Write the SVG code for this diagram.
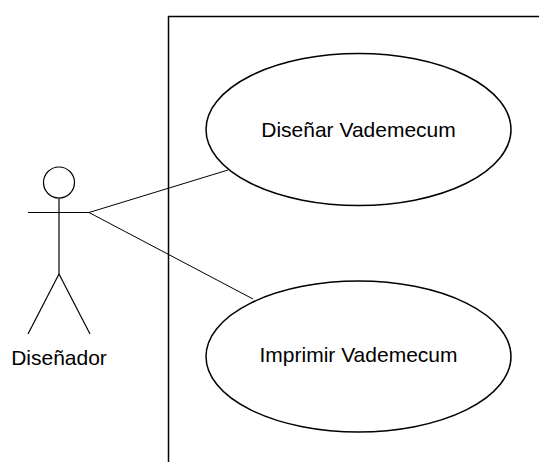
<svg xmlns="http://www.w3.org/2000/svg" width="539" height="462" viewBox="0 0 539 462">
<style>
.shape{fill:none;stroke:#000;stroke-width:1.5}
.usecase{fill:#fff;stroke:#000;stroke-width:1.5}
.actor{fill:none;stroke:#000;stroke-width:1.2}
.conn{fill:none;stroke:#000;stroke-width:1}
text{font-family:"Liberation Sans",Arial,sans-serif;font-size:21px;fill:#000;text-anchor:middle}
</style>
<rect width="539" height="462" fill="#fff"/>
<g id="system">
<path class="shape" d="M168.5,462 V16.5 H539"/>
</g>
<g id="connectors">
<line class="conn" x1="89" y1="212.5" x2="228" y2="170"/>
<line class="conn" x1="89" y1="212.5" x2="253" y2="299"/>
</g>
<g id="actor-disenador">
<circle class="actor" cx="59" cy="182.5" r="15.5"/>
<line class="actor" x1="59" y1="198" x2="59" y2="274"/>
<line class="actor" x1="28" y1="212.5" x2="89" y2="212.5"/>
<line class="actor" x1="59" y1="274" x2="28" y2="334"/>
<line class="actor" x1="59" y1="274" x2="90" y2="334"/>
<text x="59" y="365">Diseñador</text>
</g>
<g id="uc-disenar">
<ellipse class="usecase" cx="358.5" cy="129.5" rx="152.5" ry="76"/>
<text x="358.5" y="137">Diseñar Vademecum</text>
</g>
<g id="uc-imprimir">
<ellipse class="usecase" cx="358.5" cy="356.5" rx="152.5" ry="75.5"/>
<text x="358.5" y="362">Imprimir Vademecum</text>
</g>
</svg>
